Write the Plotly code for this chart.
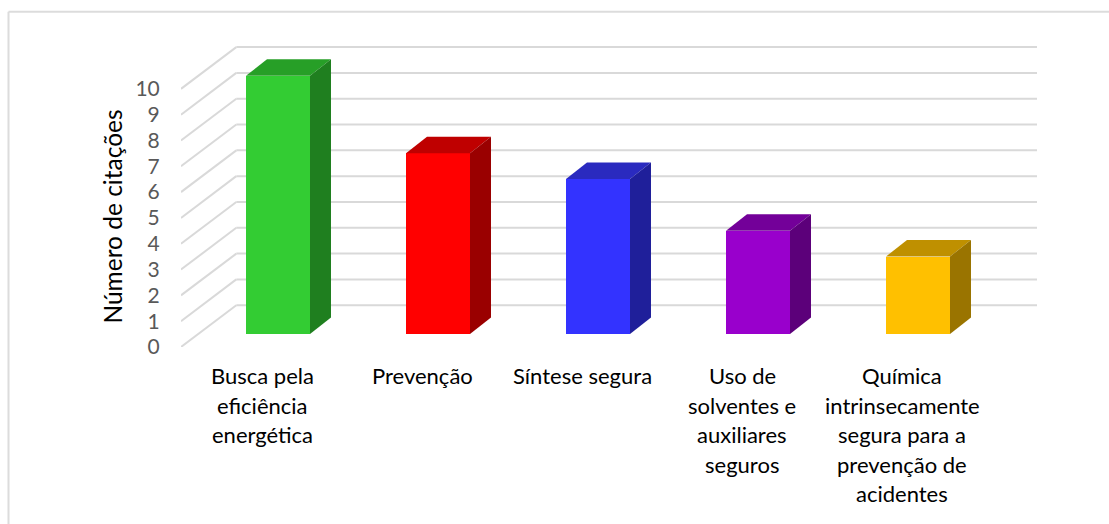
import plotly.graph_objects as go

categories = [
    ["Busca pela", "eficiência", "energética"],
    ["Prevenção"],
    ["Síntese segura"],
    ["Uso de", "solventes e", "auxiliares", "seguros"],
    ["Química", "intrinsecamente", "segura para a", "prevenção de", "acidentes"],
]
values = [10, 7, 6, 4, 3]
front_colors = ["#33CC33", "#FF0000", "#3333FF", "#9900CC", "#FFC000"]
top_colors = ["#279F27", "#BF0000", "#2A2ABF", "#730099", "#BF9000"]
side_colors = ["#1F7F1F", "#9A0000", "#1F1F9A", "#5C007A", "#9A7400"]
y_ticks = list(range(0, 11))
y_title = "Número de citações"

W, H = 1109, 524
L, R, T, B = 181.0, 1037.0, 45.2, 346.7
X0, STEP = 262.0, 160.0
PXV = 25.77


def xunits(px):
    return px / STEP


def yunits(px):
    return px / PXV


BAR_W = xunits(64.0)
BAR_DX, BAR_BASE = xunits(16.0), yunits(13.0)
DEPTH_DX, DEPTH_DY = xunits(21.0), yunits(16.5)
WALL_DX, WALL_DY = xunits(55.3), yunits(41.7)
X_MIN = (L - X0) / STEP
X_MAX = (R - X0) / STEP
Y_MAX = (B - T) / PXV

fig = go.Figure()

idx = list(range(len(values)))
fig.add_trace(go.Bar(
    x=[i + BAR_DX for i in idx], y=values, base=BAR_BASE, width=BAR_W,
    marker=dict(color=front_colors, line=dict(width=0)), showlegend=False, hoverinfo="skip",
))

for i, v in zip(idx, values):
    xl = i + BAR_DX - BAR_W / 2
    xr = xl + BAR_W
    yt = v + BAR_BASE
    yb = BAR_BASE
    fig.add_trace(go.Scatter(
        x=[xl, xr, xr + DEPTH_DX, xl + DEPTH_DX, xl],
        y=[yt, yt, yt + DEPTH_DY, yt + DEPTH_DY, yt],
        fill="toself", fillcolor=top_colors[i], mode="lines", line=dict(width=0),
        showlegend=False, hoverinfo="skip",
    ))
    fig.add_trace(go.Scatter(
        x=[xr, xr + DEPTH_DX, xr + DEPTH_DX, xr, xr],
        y=[yt, yt + DEPTH_DY, yb + DEPTH_DY, yb, yt],
        fill="toself", fillcolor=side_colors[i], mode="lines", line=dict(width=0),
        showlegend=False, hoverinfo="skip",
    ))

grid = dict(color="#D9D9D9", width=2)
for t in y_ticks:
    fig.add_shape(type="line", layer="below", x0=X_MIN, x1=X_MIN + WALL_DX, y0=t, y1=t + WALL_DY,
                  xref="x", yref="y", line=grid)
    fig.add_shape(type="line", layer="below", x0=X_MIN + WALL_DX, x1=X_MAX, y0=t + WALL_DY, y1=t + WALL_DY,
                  xref="x", yref="y", line=grid)

# chart frame: only the top and left edges are visible in the reference
frame = dict(color="#DCDCDC", width=2)
fig.add_shape(type="line", xref="paper", yref="paper", layer="below",
              x0=(8.5 - L) / (R - L), x1=(1109 - L) / (R - L),
              y0=(B - 12) / (B - T), y1=(B - 12) / (B - T), line=frame)
fig.add_shape(type="line", xref="paper", yref="paper", layer="below",
              x0=(8.5 - L) / (R - L), x1=(8.5 - L) / (R - L),
              y0=(B - 12) / (B - T), y1=(B - 524) / (B - T), line=frame)

LABEL_TOP = 13.0
LINE_H = 29.6
for i, lines in enumerate(categories):
    for j, line in enumerate(lines):
        fig.add_annotation(
            x=i, y=0, xref="x", yref="y", text=line, showarrow=False,
            yanchor="top", xanchor="center", yshift=-(LABEL_TOP + j * LINE_H),
            font=dict(family="Lato", size=22, color="#000000"),
        )

fig.add_annotation(
    x=(113 - L) / (R - L), y=(B - 216.5) / (B - T), xref="paper", yref="paper",
    text=y_title, textangle=-90, showarrow=False, xanchor="center", yanchor="middle",
    font=dict(family="Lato", size=24.5, color="#000000"),
)

fig.update_layout(
    width=W, height=H, autosize=False,
    margin=dict(l=L, r=W - R, t=T, b=H - B, pad=0),
    paper_bgcolor="#FFFFFF", plot_bgcolor="rgba(0,0,0,0)",
    showlegend=False, bargap=0,
    xaxis=dict(range=[X_MIN, X_MAX], showgrid=False, zeroline=False, showticklabels=False,
               showline=False, ticks=""),
    yaxis=dict(
        range=[0, Y_MAX], tickvals=y_ticks, ticktext=[str(t) for t in y_ticks],
        showgrid=False, zeroline=False, showline=False,
        ticks="outside", ticklen=16, tickcolor="rgba(0,0,0,0)",
        tickfont=dict(family="Lato", size=21, color="#595959"),
    ),
)

fig.write_html(
    "out.html",
    config={"displayModeBar": False},
    post_script="document.body.style.margin='0';document.body.style.overflow='hidden';",
)
